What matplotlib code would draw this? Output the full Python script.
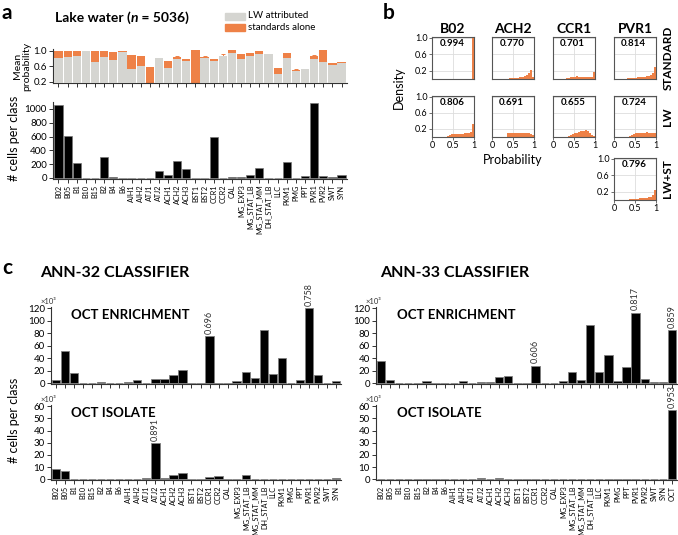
import matplotlib
matplotlib.use('Agg')
import matplotlib.pyplot as plt
import numpy as np

plt.rcParams['font.family'] = ['Lato', 'DejaVu Sans']
NARROW = ['Liberation Sans Narrow', 'Lato', 'DejaVu Sans']

# ---------------- data ----------------
classes32 = ['B02', 'B05', 'B1', 'B10', 'B15', 'B2', 'B4', 'B6', 'AJH1', 'AJH2', 'ATJ1', 'ATJ2',
             'ACH1', 'ACH2', 'ACH3', 'BST1', 'BST2', 'CCR1', 'CCR2', 'CAL', 'MG_EXP3',
             'MG_STAT_LB', 'MG_STAT_MM', 'DH_STAT_LB', 'LLC', 'PKM1', 'PMG', 'PPT',
             'PVR1', 'PVR2', 'SWT', 'SYN']
classes33 = classes32 + ['OCT']

lw_attributed = [0.81, 0.85, 0.87, 1.00, 0.70, 0.83, 0.76, 0.98, 0.53, 0.62, 0.0, 0.82,
                 0.57, 0.78, 0.73, 0.0, 0.82, 0.75, 0.86, 0.95, 0.78, 0.88, 0.93, 0.91,
                 0.39, 0.81, 0.48, 0.53, 0.80, 0.72, 0.63, 0.68]
standards_alone = [0.99, 0.99, 0.99, 1.00, 0.99, 1.00, 0.96, 0.99, 0.89, 0.86, 0.58, 0.0,
                   0.73, 0.84, 0.80, 1.01, 0.84, 0.78, 0.88, 1.02, 0.93, 0.95, 0.99, 0.93,
                   0.57, 0.95, 0.50, 0.0, 0.86, 1.01, 0.68, 0.71]
standards_err = [0, 0, 0, 0, 0, 0, 0, 0, 0, 0, 0, 0,
                 0, 0.03, 0, 0, 0.02, 0, 0.03, 0, 0, 0, 0, 0,
                 0, 0, 0.02, 0, 0.04, 0, 0, 0]
lake_counts = [1050, 610, 210, 5, 5, 310, 20, 5, 5, 5, 5, 100,
               40, 245, 135, 5, 5, 600, 5, 20, 20, 45, 145, 5,
               5, 225, 5, 35, 1080, 35, 10, 40]

ann32_enrich = [5.8, 51.5, 17, 0.5, 0.5, 2, 0.5, 0.5, 2, 5, 0.5, 7,
                7, 13, 21, 0.5, 0.5, 75, 1, 0.3, 4, 18.5, 9, 85,
                15.5, 40, 1, 6, 120, 13, 0.5, 3.5]
ann32_isolate = [8.5, 7.2, 0.3, 0.3, 0.3, 0.3, 0.3, 0.3, 0.3, 0.3, 1.2, 30,
                 0.8, 3.2, 5, 0.3, 0.5, 1.6, 3, 0.3, 0.5, 3.7, 0.3, 0.5,
                 0.3, 0.3, 0.5, 0.3, 0.3, 0.3, 0.5, 0.8]
ann33_enrich = [36, 6, 1, 0.5, 0.5, 4, 0.5, 0.5, 1, 3, 0.5, 2.5,
                2.5, 9.5, 12, 0.5, 0.5, 28.5, 0.5, 0.5, 4.5, 17.5, 6, 93,
                18, 46, 3, 26, 113, 6.5, 2.5, 2.5, 85]
ann33_isolate = [0.3, 0.5, 0.3, 0.3, 0.3, 0.3, 0.3, 0.3, 0.3, 0.3, 0.3, 1.0,
                 0.5, 0.8, 0.7, 0.3, 0.5, 0.3, 0.5, 0.3, 0.5, 0.6, 0.3, 0.5,
                 0.5, 0.3, 0.5, 0.3, 0.3, 0.3, 0.5, 0.3, 57]

ann32_enrich_labels = {'CCR1': '0.696', 'PVR1': '0.758'}
ann32_isolate_labels = {'ATJ2': '0.891'}
ann33_enrich_labels = {'CCR1': '0.606', 'PVR1': '0.817', 'OCT': '0.859'}
ann33_isolate_labels = {'OCT': '0.953'}

hist_classes = ['B02', 'ACH2', 'CCR1', 'PVR1']
hist_rows = ['STANDARD', 'LW']
hist_bin_edges = np.linspace(0, 1, 21)
hist_standard = {
    'B02': [0, 0, 0, 0, 0, 0, 0, 0, 0, 0, 0, 0, 0, 0, 0, 0, 0, 0, 0.005, 1.0],
    'ACH2': [0, 0, 0, 0, 0, 0.005, 0.01, 0.01, 0.015, 0.02, 0.02, 0.025, 0.03, 0.04,
             0.05, 0.07, 0.09, 0.14, 0.22, 0.06],
    'CCR1': [0, 0, 0, 0, 0.005, 0.01, 0.02, 0.03, 0.045, 0.055, 0.06, 0.065, 0.055,
             0.05, 0.045, 0.045, 0.045, 0.045, 0.05, 0.18],
    'PVR1': [0, 0, 0, 0, 0.005, 0.01, 0.015, 0.02, 0.025, 0.03, 0.035, 0.04, 0.045,
             0.05, 0.06, 0.07, 0.08, 0.1, 0.15, 0.3],
}
hist_lw = {
    'B02': [0, 0, 0, 0, 0, 0, 0.01, 0.02, 0.04, 0.07, 0.08, 0.07, 0.08, 0.07, 0.08,
            0.09, 0.1, 0.1, 0.12, 0.33],
    'ACH2': [0, 0, 0, 0, 0, 0, 0.01, 0.1, 0.11, 0.09, 0.1, 0.09, 0.1, 0.1, 0.09, 0.1,
             0.11, 0.1, 0.07, 0.04],
    'CCR1': [0, 0, 0, 0, 0, 0, 0.01, 0.03, 0.05, 0.07, 0.09, 0.11, 0.13, 0.15, 0.16,
             0.17, 0.15, 0.09, 0.04, 0.02],
    'PVR1': [0, 0, 0, 0, 0, 0, 0.01, 0.03, 0.05, 0.07, 0.09, 0.1, 0.11, 0.1, 0.11,
             0.12, 0.1, 0.11, 0.1, 0.09],
}
hist_lwst = [0, 0, 0, 0, 0, 0.005, 0.01, 0.015, 0.02, 0.03, 0.03, 0.035, 0.04, 0.045,
             0.05, 0.06, 0.07, 0.08, 0.12, 0.25]
hist_standard_means = {'B02': '0.994', 'ACH2': '0.770', 'CCR1': '0.701', 'PVR1': '0.814'}
hist_lw_means = {'B02': '0.806', 'ACH2': '0.691', 'CCR1': '0.655', 'PVR1': '0.724'}
hist_lwst_mean = '0.796'

# ---------------- style ----------------
GRAY = '#d5d5d1'
ORANGE = '#ee8147'
SPINE = '#333333'

W, H = 678, 535
fig = plt.figure(figsize=(W / 100, H / 100), dpi=100)


def add_ax(x0, y0, x1, y1):
    return fig.add_axes([x0 / W, 1 - y1 / H, (x1 - x0) / W, (y1 - y0) / H])


def ftext(x, y, s, **kw):
    return fig.text(x / W, 1 - y / H, s, **kw)


def style_lb(ax):
    for s in ['top', 'right']:
        ax.spines[s].set_visible(False)
    for s in ['left', 'bottom']:
        ax.spines[s].set_linewidth(0.8)
        ax.spines[s].set_color(SPINE)
    ax.tick_params(axis='both', length=3, width=0.7, color=SPINE, labelsize=7, pad=1.5)


def set_cat_labels(ax, classes):
    ax.set_xticklabels(classes, rotation=90, fontsize=5.2, family=NARROW)
    ax.tick_params(axis='x', pad=1)


# ---------------- panel a ----------------
ftext(2, 3, 'a', fontsize=15, fontweight='bold', va='top')
renderer = fig.canvas.get_renderer()
t1 = ftext(55, 18, 'Lake water (', fontsize=10, fontweight='bold', va='center')
bb = t1.get_window_extent(renderer)
t2 = fig.text(bb.x1 / W, 1 - 18 / H, 'n', fontsize=10, fontweight='bold',
              fontstyle='italic', va='center')
bb2 = t2.get_window_extent(renderer)
fig.text(bb2.x1 / W, 1 - 18 / H, ' = 5036)', fontsize=10, fontweight='bold', va='center')

# legend
lg = add_ax(220, 10, 330, 33)
lg.set_axis_off()
lg.set_xlim(0, 110)
lg.set_ylim(23, 0)
lg.add_patch(plt.Rectangle((5, 2.5), 20, 7, color=GRAY))
lg.add_patch(plt.Rectangle((5, 13.5), 20, 7, color=ORANGE))
lg.text(28, 6, 'LW attributed', fontsize=7, va='center')
lg.text(28, 17, 'standards alone', fontsize=7, va='center')

xa = np.arange(len(classes32))
axp = add_ax(53, 47, 347, 83)
axp.bar(xa, standards_alone, width=0.9, color=ORANGE, bottom=0, zorder=2)
axp.errorbar(xa, standards_alone, yerr=[np.zeros(len(xa)), standards_err], fmt='none',
             ecolor=ORANGE, elinewidth=0.7, capsize=1.5, capthick=0.7, zorder=2)
axp.bar(xa, lw_attributed, width=0.9, color=GRAY, zorder=3)
axp.set_xlim(-0.6, len(xa) - 0.4)
axp.set_ylim(0.17, 1.1)
axp.set_yticks([0.2, 0.6, 1.0])
axp.set_yticklabels(['0.2', '0.6', '1.0'])
axp.set_xticks(xa)
axp.set_xticklabels([])
style_lb(axp)
axp.spines['left'].set_bounds(0.17, 1.05)
ftext(22, 66, 'Mean\nprobability', fontsize=7.5, rotation=90, ha='center', va='center',
      linespacing=1.0)

axc = add_ax(53, 102, 347, 179)
axc.bar(xa, lake_counts, width=0.9, color='black', edgecolor='#777777', linewidth=0.5)
axc.set_xlim(-0.6, len(xa) - 0.4)
axc.set_ylim(-15, 1100)
axc.set_yticks([0, 200, 400, 600, 800, 1000])
axc.set_xticks(xa)
style_lb(axc)
set_cat_labels(axc, classes32)
ftext(14, 138, '# cells per class', fontsize=9, rotation=90, ha='center', va='center')

# ---------------- panel b ----------------
ftext(383, 3, 'b', fontsize=15, fontweight='bold', va='top')
col_x = [(432, 474), (492, 534), (553, 595), (614, 656)]
row_y = [(37, 79), (96, 137)]


def hist_ax(x0, y0, x1, y1, vals, mean_txt, ylabels, xlabels):
    ax = add_ax(x0, y0, x1, y1)
    ax.bar(hist_bin_edges[:-1], vals, width=np.diff(hist_bin_edges), align='edge',
           color=ORANGE, linewidth=0, zorder=2)
    ax.set_xlim(0, 1)
    ax.set_ylim(0, 1.02)
    ax.set_xticks([0, 0.5, 1])
    ax.set_yticks([0.2, 0.6, 1.0])
    ax.grid(True, color='#dddddd', linewidth=0.6, zorder=0)
    for s in ax.spines.values():
        s.set_color('#555555')
        s.set_linewidth(0.8)
    ax.tick_params(length=2, width=0.6, labelsize=6.5, pad=1, color='#555555')
    if ylabels:
        ax.set_yticklabels(['0.2', '0.6', '1.0'])
    else:
        ax.set_yticklabels([])
        ax.tick_params(axis='y', length=0)
    if xlabels:
        ax.set_xticklabels(['0', '0.5', '1'])
    else:
        ax.set_xticklabels([])
        ax.tick_params(axis='x', length=0)
    ax.text(0.47, 0.84, mean_txt, transform=ax.transAxes, ha='center', va='center',
            fontsize=7, fontweight='bold', zorder=5)
    return ax


for j, cls in enumerate(hist_classes):
    x0, x1 = col_x[j]
    ftext((x0 + x1) / 2, 29, cls, fontsize=10, fontweight='bold', ha='center', va='center')
    hist_ax(x0, row_y[0][0], x1, row_y[0][1], hist_standard[cls], hist_standard_means[cls],
            j == 0, False)
    hist_ax(x0, row_y[1][0], x1, row_y[1][1], hist_lw[cls], hist_lw_means[cls],
            j == 0, True)
hist_ax(col_x[3][0], 158, col_x[3][1], 200, hist_lwst, hist_lwst_mean, True, True)

ftext(399, 88, 'Density', fontsize=9, rotation=90, ha='center', va='center')
ftext(513, 160, 'Probability', fontsize=9, ha='center', va='center')
ftext(668, 58, 'STANDARD', fontsize=8.5, fontweight='bold', rotation=90, ha='center', va='center')
ftext(668, 117, 'LW', fontsize=8.5, fontweight='bold', rotation=90, ha='center', va='center')
ftext(668, 179, 'LW+ST', fontsize=8.5, fontweight='bold', rotation=90, ha='center', va='center')

# ---------------- panel c ----------------
ftext(2, 258, 'c', fontsize=15, fontweight='bold', va='top')
ftext(40, 273, 'ANN-32 CLASSIFIER', fontsize=11.5, fontweight='bold', va='center')
ftext(380, 273, 'ANN-33 CLASSIFIER', fontsize=11.5, fontweight='bold', va='center')
ftext(14, 420, '# cells per class', fontsize=9, rotation=90, ha='center', va='center')


def count_panel(x0, y0, x1, y1, classes, vals, ylim, yticks, labels, title, show_x):
    ax = add_ax(x0, y0, x1, y1)
    x = np.arange(len(classes))
    ax.bar(x, vals, width=0.92, color='black', edgecolor='#808080', linewidth=0.6)
    ax.set_xlim(-0.55, len(classes) - 0.45)
    ax.set_ylim(*ylim)
    ax.set_yticks(yticks)
    ax.set_xticks(x)
    style_lb(ax)
    if show_x:
        set_cat_labels(ax, classes)
    else:
        ax.set_xticklabels([])
    for name, txt in labels.items():
        i = classes.index(name)
        ax.text(i, vals[i] + ylim[1] * 0.03, txt, rotation=90, ha='center', va='bottom',
                fontsize=6.5, color='#333333', clip_on=False)
    ax.text(0.07, 0.97, title, transform=ax.transAxes, fontsize=9.5, fontweight='bold',
            va='top', ha='left')
    ax.text(-0.035, 1.03, '×10³', transform=ax.transAxes, fontsize=5.5, ha='left',
            va='bottom', color='#333333')
    return ax


count_panel(51, 307, 341, 384, classes32, ann32_enrich, (-1, 122),
            [0, 20, 40, 60, 80, 100, 120], ann32_enrich_labels, 'OCT ENRICHMENT', False)
count_panel(51, 405, 341, 480, classes32, ann32_isolate, (-0.5, 61),
            [0, 10, 20, 30, 40, 50, 60], ann32_isolate_labels, 'OCT ISOLATE', True)
count_panel(376, 307, 677, 384, classes33, ann33_enrich, (-1, 122),
            [0, 20, 40, 60, 80, 100, 120], ann33_enrich_labels, 'OCT ENRICHMENT', False)
count_panel(376, 405, 677, 480, classes33, ann33_isolate, (-0.5, 61),
            [0, 10, 20, 30, 40, 50, 60], ann33_isolate_labels, 'OCT ISOLATE', True)

fig.savefig('out.png', dpi=100)
